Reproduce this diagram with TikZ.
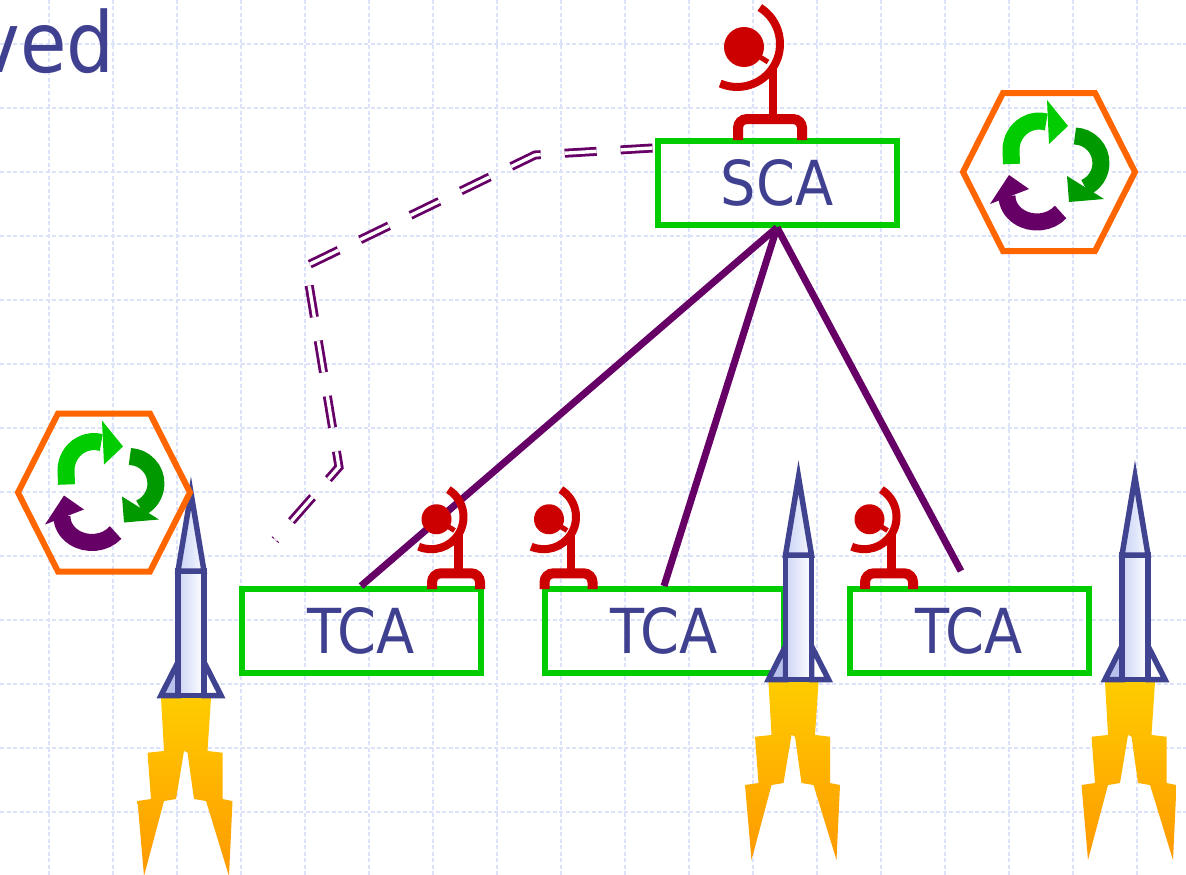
\documentclass[tikz,border=0pt]{standalone}
\usepackage{fontspec}
\setmainfont{DejaVu Sans}[FakeStretch=0.9]
\usetikzlibrary{calc}

\definecolor{gridc}{RGB}{220,226,250}
\definecolor{ink}{RGB}{64,64,144}
\definecolor{boxg}{RGB}{0,204,0}
\definecolor{linkp}{RGB}{102,0,102}
\definecolor{antred}{RGB}{204,0,0}
\definecolor{hexor}{RGB}{255,102,0}
\definecolor{rgreen}{RGB}{0,204,0}
\definecolor{dgreen}{RGB}{0,153,0}
\definecolor{rocketb}{RGB}{64,68,144}
\definecolor{flameY}{RGB}{255,204,0}
\definecolor{flameO}{RGB}{255,153,0}
\definecolor{noseF}{RGB}{200,210,245}
\definecolor{bodyL}{RGB}{205,212,245}
\definecolor{finL}{RGB}{184,192,235}

\tikzset{
  gridline/.style={draw=gridc, line width=1.1pt, dash pattern=on 4pt off 2.5pt},
  agent/.style={draw=boxg, line width=6pt, minimum width=239pt, minimum height=84pt,
    inner sep=0pt, text=ink, font=\fontsize{62}{68}\selectfont},
  link/.style={draw=linkp, line width=7pt},
  feedback/.style={draw=linkp, line width=2.8pt, double=white, double distance=3.4pt,
    dash pattern=on 32pt off 24pt},
  pics/antenna/.style={code={
    \fill[antred] (-26,-93) circle[radius=20];
    \draw[antred, line width=5pt] (-26,-93) -- (-2,-78);
    \draw[antred, line width=8pt] (-10.2,-132.5) arc[start angle=-58, end angle=113, radius=43];
    \draw[antred, line width=8.5pt] (3,-72) -- (3,-22);
    \draw[antred, line width=10pt, rounded corners=9pt] (-32,0) -- (-32,-21) -- (32,-21) -- (32,0);
  }},
  pics/rocket/.style={code={
    \shade[top color=flameY, bottom color=flameO]
      (-30,0) -- (-27,53) -- (-43.5,54.7) -- (-40,101) -- (-53.5,103) -- (-47,178)
      -- (-27,103) -- (-15,101) -- (-7,53) -- (-3.5,54.7) -- (3,101) -- (15,103)
      -- (38,178) -- (41.5,103) -- (31.5,101) -- (31.5,54.7) -- (16.5,53) -- (20,0) -- cycle;
    \filldraw[fill=finL, draw=rocketb, line width=5.5pt] (-13,-36) -- (-30,-2.5) -- (-13,-2.5) -- cycle;
    \filldraw[fill=white, draw=rocketb, line width=5.5pt] (13,-36) -- (30,-2.5) -- (13,-2.5) -- cycle;
    \draw[left color=bodyL, right color=white, draw=rocketb, line width=5.5pt] (-13,-127) rectangle (13,-2.5);
    \draw[left color=noseF, right color=white!85!noseF, draw=rocketb, line width=5.5pt]
      (-13,-127) -- (0,-205) -- (13,-127) -- cycle;
  }},
  pics/recycle/.style={code={
    \draw[hexor, line width=6pt] (-86,0) -- (-46,-79) -- (46,-79) -- (86,0) -- (46,79) -- (-46,79) -- cycle;
    \draw[rgreen, line width=17pt] (-37.5,-8) -- (-38,-22) arc[start angle=180, end angle=285, x radius=28, y radius=29];
    \fill[rgreen] (-2,-72) -- (19,-46) -- (0,-28) -- cycle;
    \draw[dgreen, line width=17pt] (25.9,-36) arc[start angle=272, end angle=425, radius=27];
    \fill[dgreen] (18,4) -- (55,27) -- (20,30) -- cycle;
    \draw[linkp, line width=17pt] (11.6,40) arc[start angle=38, end angle=180, x radius=30, y radius=26];
    \fill[linkp] (-59,32) -- (-40,3) -- (-20,17) -- cycle;
  }}
}

\begin{document}
\begin{tikzpicture}[x=1pt, y=-1pt]
\useasboundingbox (0,0) rectangle (1186,875);
\fill[white] (0,0) rectangle (1186,875);

% background grid
\foreach \gx in {49,113,...,1137} \draw[gridline] (\gx,0) -- (\gx,875);
\foreach \gy in {44,108,...,812} \draw[gridline] (0,\gy) -- (1186,\gy);

% title fragment
\node[anchor=base east, inner sep=0pt, text=ink, font=\fontsize{84}{92}\selectfont] (title) at (115,73) {ved};

% agents
\node[agent] (SCA) at (777,182.5) {SCA};
\node[agent] (TCA1) at (361,631) {TCA};
\node[agent] (TCA2) at (664,631) {TCA};
\node[agent] (TCA3) at (969,631) {TCA};

% links
\coordinate (fbstart) at ($(SCA.north west)+(-2,10.5)$);
\coordinate (fbend) at (275,540);
\draw[feedback] (fbstart) -- (535,155) -- (306,266) -- (339,467) -- (fbend);
\draw[link] (SCA.south) -- (TCA1.north);
\draw[link] (SCA.south) -- (TCA2.north);
\draw[link, shorten >=17pt] (SCA.south) -- (TCA3.north);

% antennas
\pic at (770,140) {antenna};
\pic[scale=0.75] at (456,589) {antenna};
\pic[scale=0.75] at (568.5,589) {antenna};
\pic[scale=0.75] at (889,589) {antenna};

% rockets
\pic at (191,698) {rocket};
\pic at (798.5,682) {rocket};
\pic at (1135,682) {rocket};

% recycle badges
\pic at (1049,172) {recycle};
\pic at (104,492.5) {recycle};
\end{tikzpicture}
\end{document}
